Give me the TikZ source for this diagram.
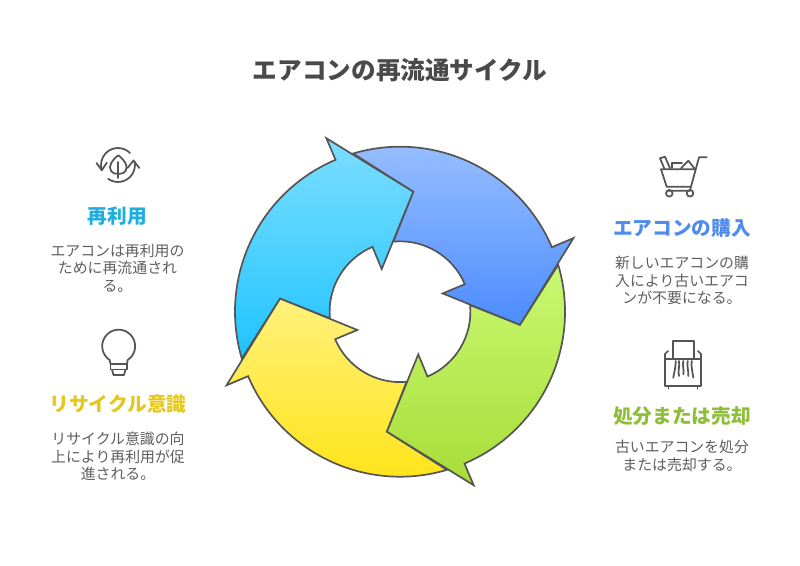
\documentclass[tikz,border=0pt]{standalone}
\usepackage{fontspec}
\setmainfont{Noto Sans CJK JP}
\definecolor{titlegray}{HTML}{4A4A4A}
\definecolor{bodygray}{HTML}{5E5E5E}
\definecolor{linegray}{HTML}{555555}
\definecolor{reuseblue}{HTML}{1FAEDD}
\definecolor{awareyellow}{HTML}{E5C81F}
\definecolor{buyblue}{HTML}{4E8DEE}
\definecolor{selloff}{HTML}{8EBE3A}
\tikzset{
    titletext/.style={text=titlegray, font=\fontsize{21}{25}\selectfont\bfseries},
    headtext/.style={font=\fontsize{16.8}{20}\selectfont\bfseries},
    bodytext/.style={text=bodygray, align=center, font=\fontsize{12.7}{15}\selectfont},
    wedge/.style={draw=linegray, line width=1.45pt, line join=miter},
    icon/.style={draw=linegray, line width=1.5pt, line cap=round, line join=round}
}
\begin{document}
\begin{tikzpicture}[x=0.03cm, y=-0.03cm]
    \useasboundingbox (0,0) rectangle (800,566);

    \node[titletext] (title) at (400,70) {エアコンの再流通サイクル};

    % Draw the four arrows of the wheel
    \begin{scope}[shift={(400,311.7)}, y=0.03cm]
        \foreach \rot/\ctop/\cbot in {0/9CC2FF/4C8CFF, -90/C9F871/A8DD38, -180/FFF17C/FFE312, 90/7CDEFF/1FC4FF} {
            \definecolor{wedgetop}{HTML}{\ctop}
            \definecolor{wedgebot}{HTML}{\cbot}
            \path[wedge, top color=wedgetop, bottom color=wedgebot]
                ({\rot+106.5}:165) arc[start angle={\rot+106.5}, end angle={\rot+23}, radius=165]
                -- ({\rot+23}:188.5) -- ({\rot-6.3}:120.7) -- ({\rot+23.2}:46.4) -- ({\rot+23}:70.4)
                arc[start angle={\rot+23}, end angle={\rot+95.4}, radius=70.4]
                -- ({\rot+83.7}:120.7) -- cycle;
        }
    \end{scope}

    % Left column, reuse
    \draw[icon] (130,153) arc[start angle=-45, end angle=-198, radius=17];
    \draw[icon] (96.5,163) -- (101.8,170.3) -- (106.8,162.7);
    \draw[icon] (108.2,178.9) arc[start angle=-235, end angle=-371, radius=17];
    \draw[icon] (127.5,168) -- (133.5,160.5) -- (139.3,168);
    \draw[icon] (118.3,155.3) .. controls (112,160) and (108,166) .. (111,171) .. controls (113,175) and (123.6,175) .. (125.6,171) .. controls (128.6,166) and (124.6,160) .. (118.3,155.3);
    \draw[icon] (118.3,162) -- (118.3,178);
    \node[headtext, text=reuseblue] (reuse) at (117.5,216) {再利用};
    \node[bodytext] (reusetext) at (117.5,268) {エアコンは再利用の\\ ために再流通され\\ る。};

    % Left column, awareness
    \draw[icon] (110.5,364) -- (109.7,360) arc[start angle=123, end angle=417, radius=16.5] -- (127,364);
    \draw[icon] (110.5,364) rectangle (127,369.5);
    \draw[icon] (112,369.5) -- (113.5,375) -- (124,375) -- (125.5,369.5);
    \node[headtext, text=awareyellow] (aware) at (118,404) {リサイクル意識};
    \node[bodytext] (awaretext) at (118,456.5) {リサイクル意識の向\\ 上により再利用が促\\ 進される。};

    % Right column, purchase
    \draw[icon] (706.7,157.3) -- (699,157.3) -- (691,186.7) -- (666.7,186.7) -- (661,169.3) -- (695.7,169.3);
    \draw[icon] (691,186.7) -- (690,190.7) -- (668,190.7);
    \draw[icon] (669.3,193.3) circle (3.3);
    \draw[icon] (690,193.3) circle (3.3);
    \draw[icon] (664.5,169) -- (660,158.3) -- (665,156.7) -- (670,168.3);
    \draw[icon] (671.7,168) -- (671.7,162.7) -- (682,162.7);
    \draw[icon] (681,168.3) -- (688.3,160.7) -- (694.3,168.3);
    \node[headtext, text=buyblue] (buy) at (682,228) {エアコンの購入};
    \node[bodytext] (buytext) at (682,280.5) {新しいエアコンの購\\ 入により古いエアコ\\ ンが不要になる。};

    % Right column, disposal
    \draw[icon] (673.3,358) -- (673.3,341) -- (694.3,341) -- (694.3,358);
    \draw[icon] (668,351) -- (665,354) -- (665,386) -- (701,386) -- (701,354) -- (698,351);
    \draw[icon] (665,358.7) -- (701,358.7);
    \draw[icon] (668.5,386) -- (668.5,388.7);
    \draw[icon] (697.5,386) -- (697.5,388.7);
    \draw[icon] (675.7,361) .. controls (676,367) and (674,372) .. (673.3,377.7);
    \draw[icon] (679,361) .. controls (680,367) and (677.5,371) .. (679,376);
    \draw[icon] (683.3,361) .. controls (682,366) and (684.5,370) .. (683.3,374.3);
    \draw[icon] (687.7,361) .. controls (686.5,367) and (689,371) .. (688.3,376);
    \draw[icon] (691.7,361) .. controls (691,367) and (692.5,372) .. (693.3,377.7);
    \node[headtext, text=selloff] (sell) at (682,416) {処分または売却};
    \node[bodytext] (selltext) at (682,456) {古いエアコンを処分\\ または売却する。};
\end{tikzpicture}
\end{document}
